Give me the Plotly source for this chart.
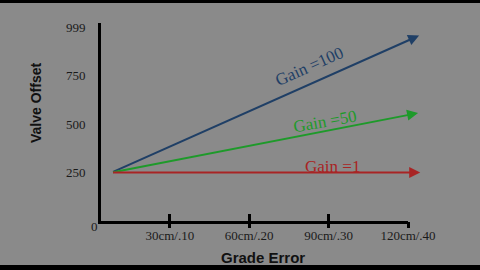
import plotly.graph_objects as go

# Data
gains = ["Gain =100", "Gain =50", "Gain =1"]
x_start = [8, 8, 8]
y_start = [250, 250, 250]
x_end = [124.2, 123.8, 124.6]
y_end = [955, 556, 250]
colors = ["#1f3f66", "#1e9a2a", "#a82424"]
label_x = [82.6, 88.6, 91.6]
label_y = [798, 515, 280]
label_angle = [-24, -10, 0]

x_tickvals = [30, 60, 90, 120]
x_ticktext = ["30cm/.10", "60cm/.20", "90cm/.30", "120cm/.40"]
y_tickvals = [250, 500, 750, 999]
y_ticktext = ["250", "500", "750", "999"]

BG = "#8a8a8a"
serif = "Liberation Serif, Times New Roman, serif"
sans = "Liberation Sans, Arial, sans-serif"

W, H = 480, 270
ml, mr, mt, mb = 101, 72, 23, 49
pw, ph = W - ml - mr, H - mt - mb


def px(xp):
    return (xp - ml) / pw


def py(yp):
    return (H - mb - yp) / ph


fig = go.Figure()
fig.add_trace(go.Scatter(x=x_start + x_end, y=y_start + y_end, mode="markers",
                         marker=dict(opacity=0), hoverinfo="skip", showlegend=False))
fig.add_trace(go.Scatter(x=[None], y=[None], xaxis="x2", showlegend=False))

annotations = []
for i in range(len(gains)):
    annotations.append(dict(x=x_end[i], y=y_end[i], ax=x_start[i], ay=y_start[i],
                            xref="x", yref="y", axref="x", ayref="y",
                            showarrow=True, arrowhead=2, arrowsize=1.1, arrowwidth=2,
                            arrowcolor=colors[i], text=""))
    annotations.append(dict(x=label_x[i], y=label_y[i], xref="x", yref="y",
                            text=gains[i], showarrow=False, textangle=label_angle[i],
                            xanchor="center", yanchor="middle",
                            font=dict(family=serif, size=17, color=colors[i])))

annotations.append(dict(x=4, y=0, xref="x", yref="y", text="0", showarrow=False,
                        xanchor="right", xshift=-1, yshift=-5,
                        font=dict(family=serif, size=13, color="#1a1a1a")))
annotations.append(dict(x=px(36), y=py(103), xref="paper", yref="paper",
                        text="<b>Valve Offset</b>", showarrow=False, textangle=-90,
                        xanchor="center", yanchor="middle",
                        font=dict(family=sans, size=14, color="#111")))
annotations.append(dict(x=px(263), y=py(257), xref="paper", yref="paper",
                        text="<b>Grade Error</b>", showarrow=False,
                        xanchor="center", yanchor="middle",
                        font=dict(family=sans, size=15, color="#111")))

fig.update_layout(
    width=W, height=H,
    margin=dict(l=ml, r=mr, t=mt, b=mb),
    paper_bgcolor=BG, plot_bgcolor=BG,
    showlegend=False,
    annotations=annotations,
    xaxis=dict(range=[4, 120], showgrid=False, zeroline=False, showline=True,
               linecolor="black", linewidth=3, tickvals=x_tickvals, ticktext=x_ticktext,
               ticks="inside", ticklen=7, tickwidth=3, tickcolor="black",
               tickfont=dict(family=serif, size=13, color="#1a1a1a")),
    xaxis2=dict(range=[4, 120], overlaying="x", showgrid=False, zeroline=False,
                tickvals=x_tickvals, showticklabels=False, ticks="outside", ticklen=6,
                tickwidth=3, tickcolor="black", side="bottom"),
    yaxis=dict(range=[0, 1020], showgrid=False, zeroline=False, showline=True,
               linecolor="black", linewidth=3, tickvals=y_tickvals, ticktext=y_ticktext,
               ticks="outside", ticklen=10, tickcolor=BG,
               tickfont=dict(family=serif, size=13, color="#1a1a1a")),
    shapes=[
        dict(type="rect", xref="paper", yref="paper", x0=-1, x1=2,
             y0=py(3), y1=py(-1), fillcolor="black", line_width=0, layer="above"),
        dict(type="rect", xref="paper", yref="paper", x0=-1, x1=2,
             y0=py(271), y1=py(265), fillcolor="black", line_width=0, layer="above"),
    ],
)

fig.write_html("out.html")
